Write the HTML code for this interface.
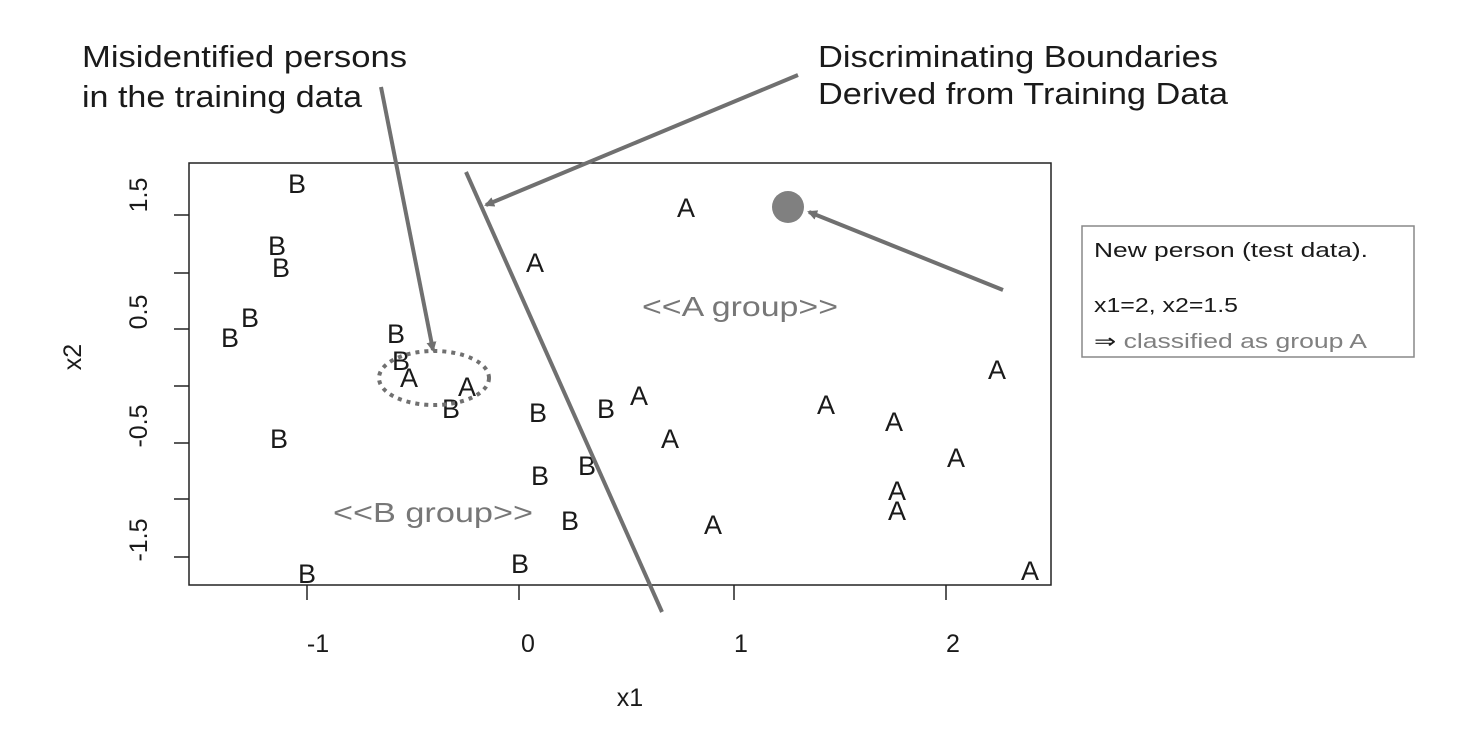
<!DOCTYPE html>
<html><head><style>body{margin:0;background:#fff}</style></head><body>
<svg width="1474" height="748" xmlns="http://www.w3.org/2000/svg" font-family="Liberation Sans, sans-serif">
<defs><marker id="ah" markerWidth="10" markerHeight="10" refX="8" refY="5" orient="auto" markerUnits="userSpaceOnUse"><path d="M0,0 L10,5 L0,10 z" fill="#707070"/></marker></defs>
<g font-size="31" fill="#1a1a1a">
<text x="82" y="67" textLength="325" lengthAdjust="spacingAndGlyphs">Misidentified persons</text>
<text x="82" y="107" textLength="280" lengthAdjust="spacingAndGlyphs">in the training data</text>
<text x="818" y="67" textLength="400" lengthAdjust="spacingAndGlyphs">Discriminating Boundaries</text>
<text x="818" y="104" textLength="410" lengthAdjust="spacingAndGlyphs">Derived from Training Data</text>
</g>
<rect x="189" y="163" width="862" height="422" fill="none" stroke="#222" stroke-width="1.5"/>
<g stroke="#222" stroke-width="1.5">
<line x1="307" y1="585" x2="307" y2="600"/><line x1="519" y1="585" x2="519" y2="600"/><line x1="734" y1="585" x2="734" y2="600"/><line x1="946" y1="585" x2="946" y2="600"/>
<line x1="174" y1="215" x2="189" y2="215"/><line x1="174" y1="273" x2="189" y2="273"/><line x1="174" y1="329" x2="189" y2="329"/><line x1="174" y1="386" x2="189" y2="386"/><line x1="174" y1="443" x2="189" y2="443"/><line x1="174" y1="499" x2="189" y2="499"/><line x1="174" y1="557" x2="189" y2="557"/>
</g>
<g font-size="25" fill="#1a1a1a" text-anchor="middle">
<text x="318" y="652">-1</text><text x="528" y="652">0</text><text x="741" y="652">1</text><text x="953" y="652">2</text>
<text x="630" y="706">x1</text>
<text transform="translate(147,195) rotate(-90)">1.5</text>
<text transform="translate(147,312) rotate(-90)">0.5</text>
<text transform="translate(147,426) rotate(-90)">-0.5</text>
<text transform="translate(147,540) rotate(-90)">-1.5</text>
<text transform="translate(81,357) rotate(-90)">x2</text>
</g>
<g font-size="27" fill="#1a1a1a" text-anchor="middle">
<text x="297" y="193">B</text><text x="277" y="255">B</text><text x="281" y="277">B</text><text x="250" y="327">B</text><text x="230" y="347">B</text>
<text x="396" y="343">B</text><text x="401" y="370">B</text><text x="409" y="387">A</text><text x="467" y="396">A</text><text x="451" y="418">B</text>
<text x="279" y="448">B</text><text x="538" y="422">B</text><text x="606" y="418">B</text><text x="639" y="405">A</text><text x="535" y="272">A</text>
<text x="686" y="217">A</text><text x="670" y="448">A</text><text x="540" y="485">B</text><text x="587" y="475">B</text><text x="570" y="530">B</text>
<text x="520" y="573">B</text><text x="307" y="583">B</text><text x="713" y="534">A</text><text x="826" y="414">A</text><text x="894" y="431">A</text>
<text x="997" y="379">A</text><text x="956" y="467">A</text><text x="897" y="500">A</text><text x="897" y="520">A</text><text x="1030" y="580">A</text>
</g>
<text x="642" y="316" font-size="28" fill="#777" textLength="196" lengthAdjust="spacingAndGlyphs">&lt;&lt;A group&gt;&gt;</text>
<text x="333" y="522" font-size="28" fill="#777" textLength="200" lengthAdjust="spacingAndGlyphs">&lt;&lt;B group&gt;&gt;</text>
<line x1="466" y1="172" x2="662" y2="612" stroke="#707070" stroke-width="4"/>
<line x1="798" y1="75" x2="486" y2="205" stroke="#707070" stroke-width="4" marker-end="url(#ah)"/>
<line x1="381" y1="87" x2="433" y2="350" stroke="#707070" stroke-width="4" marker-end="url(#ah)"/>
<line x1="1003" y1="290" x2="809" y2="212" stroke="#707070" stroke-width="4" marker-end="url(#ah)"/>
<circle cx="788" cy="207" r="16" fill="#808080"/>
<ellipse cx="434" cy="378" rx="55" ry="27" fill="none" stroke="#707070" stroke-width="4" stroke-dasharray="4,5"/>
<rect x="1082" y="226" width="332" height="131" fill="#fff" stroke="#888" stroke-width="1.5"/>
<text x="1094" y="257" font-size="20" fill="#1a1a1a" textLength="274" lengthAdjust="spacingAndGlyphs">New person (test data).</text>
<text x="1094" y="312" font-size="20" fill="#1a1a1a" textLength="144" lengthAdjust="spacingAndGlyphs">x1=2, x2=1.5</text>
<text x="1094" y="348" font-size="20" fill="#808080" textLength="273" lengthAdjust="spacingAndGlyphs"><tspan fill="#1a1a1a">⇒</tspan> classified as group A</text>
</svg>
</body></html>
